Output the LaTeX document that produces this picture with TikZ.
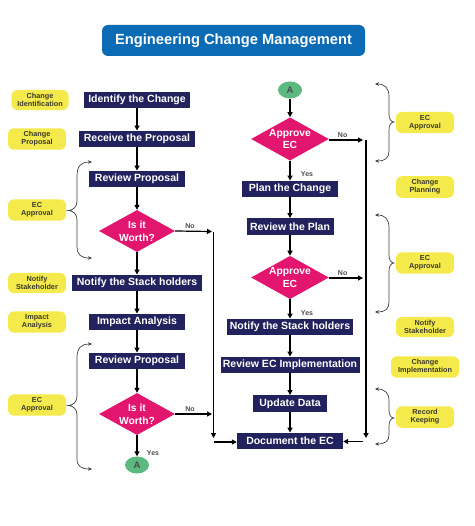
\documentclass[tikz,border=0pt]{standalone}
\usepackage{fontspec}
\setmainfont{Liberation Sans}
\usetikzlibrary{shapes.geometric,arrows.meta}
\definecolor{navy}{HTML}{22225E}
\definecolor{pinkd}{HTML}{E2156F}
\definecolor{yell}{HTML}{F5EA4B}
\definecolor{greenA}{HTML}{5CB97F}
\definecolor{titleblue}{HTML}{0B6BB5}
\definecolor{labtext}{HTML}{3A3A2A}
\tikzset{
  stepbox/.style={rectangle, fill=navy, text=white, font=\bfseries\fontsize{10.5}{12}\selectfont, minimum height=16.5pt, inner xsep=1pt, inner ysep=0pt},
  decide/.style={diamond, fill=pinkd, text=white, font=\bfseries\fontsize{10.3}{12.8}\selectfont, align=center, aspect=1.8, inner sep=0pt, minimum width=76pt, minimum height=42pt},
  conn/.style={fill=greenA, text=black!70, font=\bfseries\fontsize{9.5}{10}\selectfont, ellipse, minimum width=24pt, minimum height=17pt, inner sep=0pt},
  tag/.style={rectangle, rounded corners=6pt, fill=yell, text=labtext, font=\bfseries\fontsize{7.3}{8}\selectfont, align=center, minimum width=58pt, minimum height=20pt, inner xsep=3pt},
  flow/.style={line width=1.2pt, black, -{Triangle[length=5pt,width=5pt]}},
  brc/.style={line width=0.7pt, black!75, {Stealth[length=4pt,width=3.5pt]}-{Stealth[length=4pt,width=3.5pt]}},
  lab/.style={font=\bfseries\fontsize{7}{8}\selectfont, text=black!70, inner sep=1pt}
}
\begin{document}
\begin{tikzpicture}[x=1pt,y=-1pt]
\useasboundingbox (0,0) rectangle (474,526);
\fill[white] (0,0) rectangle (474,526);
% title
\node[rectangle, rounded corners=6pt, fill=titleblue, text=white, font=\bfseries\fontsize{14.7}{16}\selectfont, minimum width=263pt, minimum height=31pt] (title) at (233.5,40.5) {Engineering Change Management};

% left column
\node[stepbox, minimum width=106pt] (id) at (137,100) {Identify the Change};
\node[stepbox, minimum width=116pt] (rp) at (137,139) {Receive the Proposal};
\node[stepbox, minimum width=96pt] (rev1) at (137,179) {Review Proposal};
\node[decide] (d1) at (137,231) {Is it\\Worth?};
\node[stepbox, minimum width=130pt] (nsh1) at (137,283) {Notify the Stack holders};
\node[stepbox, minimum width=96pt] (ia) at (137,322) {Impact Analysis};
\node[stepbox, minimum width=96pt] (rev2) at (137,361) {Review Proposal};
\node[decide] (d2) at (137,414) {Is it\\Worth?};
\node[conn] (A1) at (137,465) {A};

% right column
\node[conn] (A2) at (290,90) {A};
\node[decide] (ap1) at (290,139) {Approve\\EC};
\node[stepbox, minimum width=96pt] (plan) at (290,189) {Plan the Change};
\node[stepbox, minimum width=87pt] (rplan) at (290,226.5) {Review the Plan};
\node[decide] (ap2) at (290,277.5) {Approve\\EC};
\node[stepbox, minimum width=126pt] (nsh2) at (290,327) {Notify the Stack holders};
\node[stepbox, minimum width=139pt] (rec) at (290,365) {Review EC Implementation};
\node[stepbox, minimum width=74pt] (upd) at (290,403.5) {Update Data};
\node[stepbox, minimum width=106pt] (doc) at (290,441) {Document the EC};

% tags left
\node[tag, minimum width=57pt] (L1) at (40,100) {Change\\Identification};
\node[tag] (L2) at (37,139) {Change\\Proposal};
\node[tag] (L3) at (37,210) {EC\\Approval};
\node[tag] (L4) at (37,283) {Notify\\Stakeholder};
\node[tag] (L5) at (37,322) {Impact\\Analysis};
\node[tag] (L6) at (37,405) {EC\\Approval};
% tags right
\node[tag] (R1) at (425,122.5) {EC\\Approval};
\node[tag] (R2) at (425,187) {Change\\Planning};
\node[tag] (R3) at (425,263) {EC\\Approval};
\node[tag] (R4) at (425,327) {Notify\\Stakeholder};
\node[tag, minimum width=68pt] (R5) at (425,367) {Change\\Implementation};
\node[tag] (R6) at (425,417) {Record\\Keeping};

% left flow
\draw[flow] (id) -- (rp);
\draw[flow] (rp) -- (rev1);
\draw[flow] (rev1) -- (d1);
\draw[flow] (d1) -- (nsh1);
\draw[flow] (nsh1) -- (ia);
\draw[flow] (ia) -- (rev2);
\draw[flow] (rev2) -- (d2);
\draw[flow] (d2) -- (A1);
\node[lab] at (153,453) {Yes};

\coordinate (n1) at (212,231.5);
\coordinate (n1t) at (213.5,232);
\coordinate (n1b) at (213.5,438);
\coordinate (n1c) at (213.5,442);
\coordinate (n2) at (212,414);
\draw[flow] (d1.east) -- (n1) node[lab, pos=0.4, above=1pt] {No};
\draw[flow] (n1t) -- (n1b);
\draw[flow] (n1c) -- (doc.west |- n1c);
\draw[flow] (d2.east) -- (n2) node[lab, pos=0.4, above=1pt] {No};

% right flow
\draw[flow] (A2) -- (ap1);
\draw[flow] (ap1) -- (plan);
\node[lab] at (307,174) {Yes};
\draw[flow] (plan) -- (rplan);
\draw[flow] (rplan) -- (ap2);
\draw[flow] (ap2) -- (nsh2);
\node[lab] at (307,313) {Yes};
\draw[flow] (nsh2) -- (rec);
\draw[flow] (rec) -- (upd);
\draw[flow] (upd) -- (doc);

\coordinate (m1) at (363,140);
\coordinate (m1t) at (366,140);
\coordinate (m1b) at (366,438);
\coordinate (m1c) at (363,441.5);
\coordinate (m2) at (363,278);
\draw[flow] (ap1.east |- m1) -- (m1) node[lab, pos=0.4, above=1pt] {No};
\draw[flow] (m1t) -- (m1b);
\draw[flow] (m1c) -- (doc.east |- m1c);
\draw[flow] (ap2.east |- m2) -- (m2) node[lab, pos=0.4, above=1pt] {No};

% left braces
\draw[brc] (92,162) .. controls (81,162) and (77,166) .. (77,176) -- (77,201) .. controls (77,207) and (73,210.5) .. (68,210.5) .. controls (73,210.5) and (77,214) .. (77,220) -- (77,246) .. controls (77,255) and (81,258) .. (92,258);
\draw[brc] (92,344) .. controls (81,344) and (77,348) .. (77,358) -- (77,396) .. controls (77,402) and (73,405.5) .. (68,405.5) .. controls (73,405.5) and (77,409) .. (77,415) -- (77,459) .. controls (77,466) and (81,469) .. (92,469);
% right braces
\draw[brc] (375,84) .. controls (385,84) and (389,88) .. (389,97) -- (389,114) .. controls (389,119) and (391,122) .. (394,122) .. controls (391,122) and (389,125) .. (389,130) -- (389,151) .. controls (389,158) and (385,161) .. (375,161);
\draw[brc] (375,215) .. controls (385,215) and (389,219) .. (389,228) -- (389,255) .. controls (389,260) and (391,263) .. (394,263) .. controls (391,263) and (389,266) .. (389,271) -- (389,302) .. controls (389,309) and (385,312) .. (375,312);
\draw[brc] (375,389) .. controls (385,389) and (389,393) .. (389,401) -- (389,410) .. controls (389,415) and (391,418) .. (394,418) .. controls (391,418) and (389,421) .. (389,426) -- (389,435) .. controls (389,441) and (385,444) .. (375,444);
\end{tikzpicture}
\end{document}
